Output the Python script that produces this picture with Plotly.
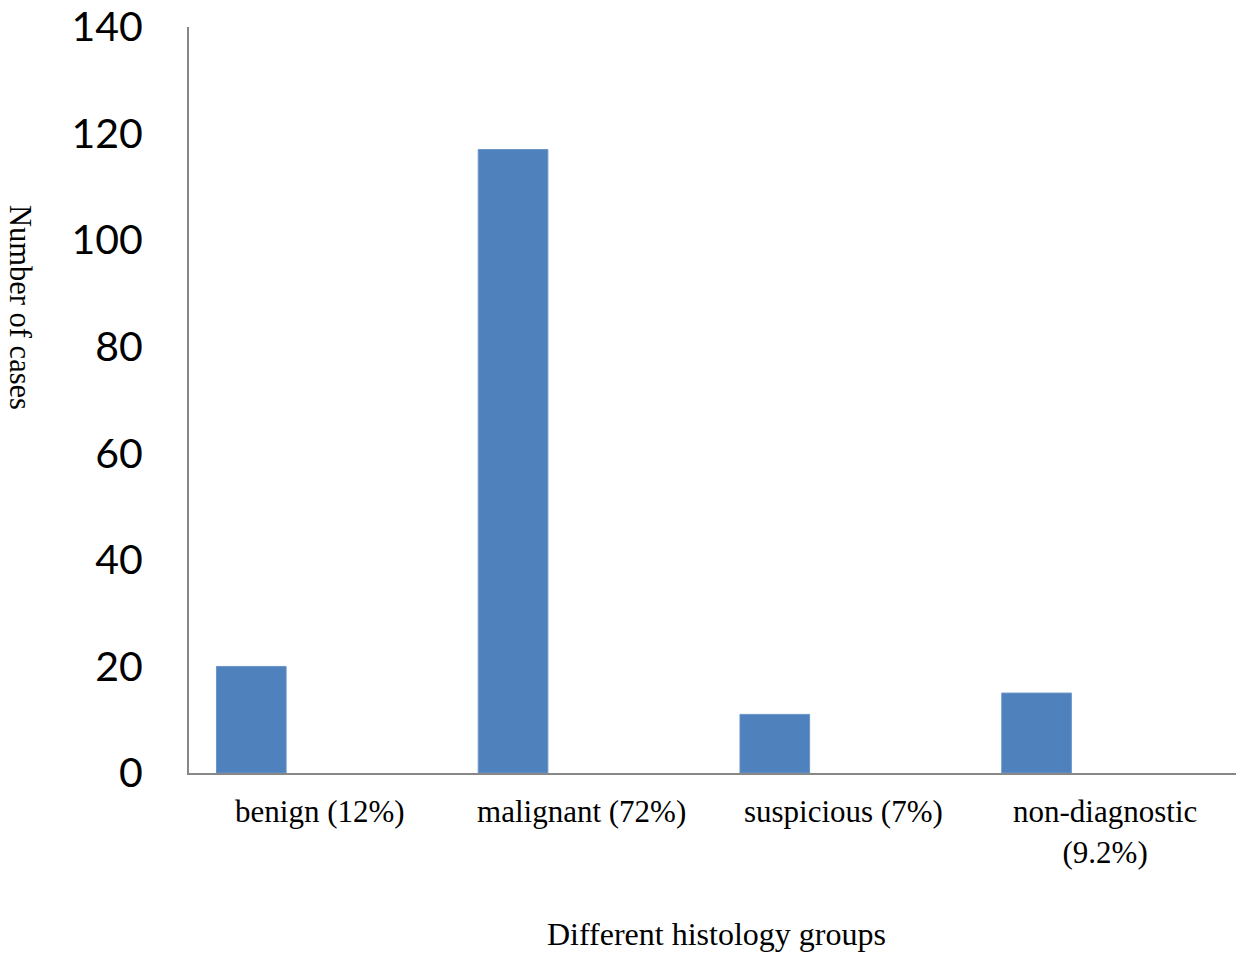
import plotly.graph_objects as go

# Histology groups and the number of cases in each
categories = ["benign (12%)", "malignant (72%)", "suspicious (7%)", "non-diagnostic<br>(9.2%)"]
counts = [20, 117, 11, 15]
y_ticks = [0, 20, 40, 60, 80, 100, 120, 140]

LEFT, RIGHT, TOP, BOTTOM = 189, 0, 27, 181
W, H = 1236, 954

fig = go.Figure()
fig.add_trace(go.Bar(
    x=categories,
    y=counts,
    width=0.266,
    offset=-0.395,
    marker=dict(color="#4F81BD", line=dict(color="#6A95C8", width=1)),
    showlegend=False,
))

fig.update_layout(
    width=W,
    height=H,
    margin=dict(l=LEFT, r=RIGHT, t=TOP, b=BOTTOM),
    plot_bgcolor="white",
    paper_bgcolor="white",
    xaxis=dict(
        type="category",
        range=[-0.5, 3.5],
        automargin=False,
        showline=True,
        linecolor="#878787",
        linewidth=2,
        showgrid=False,
        zeroline=False,
        ticks="",
        ticklabelstandoff=10,
        tickfont=dict(family="Liberation Serif", size=31, color="black"),
    ),
    yaxis=dict(
        range=[0, 140],
        tickvals=y_ticks,
        automargin=False,
        showline=True,
        linecolor="#878787",
        linewidth=2,
        showgrid=False,
        zeroline=False,
        ticks="",
        ticklabelstandoff=36,
        ticklabeloverflow="allow",
        tickfont=dict(family="Lato", size=41, color="black"),
    ),
)

# Axis titles, positioned in pixels and converted to paper coordinates
plot_w = W - LEFT - RIGHT
plot_h = H - TOP - BOTTOM


def paper_xy(px, py):
    return (px - LEFT) / plot_w, (H - BOTTOM - py) / plot_h


x0, y0 = paper_xy(20, 307)
fig.add_annotation(
    text="Number of cases", x=x0, y=y0, xref="paper", yref="paper",
    xanchor="center", yanchor="middle", showarrow=False, textangle=90,
    font=dict(family="Liberation Serif", size=30.5, color="black"),
)
x1, y1 = paper_xy(716, 934)
fig.add_annotation(
    text="Different histology groups", x=x1, y=y1, xref="paper", yref="paper",
    xanchor="center", yanchor="middle", showarrow=False,
    font=dict(family="Liberation Serif", size=32, color="black"),
)

fig.write_html("out.html")
